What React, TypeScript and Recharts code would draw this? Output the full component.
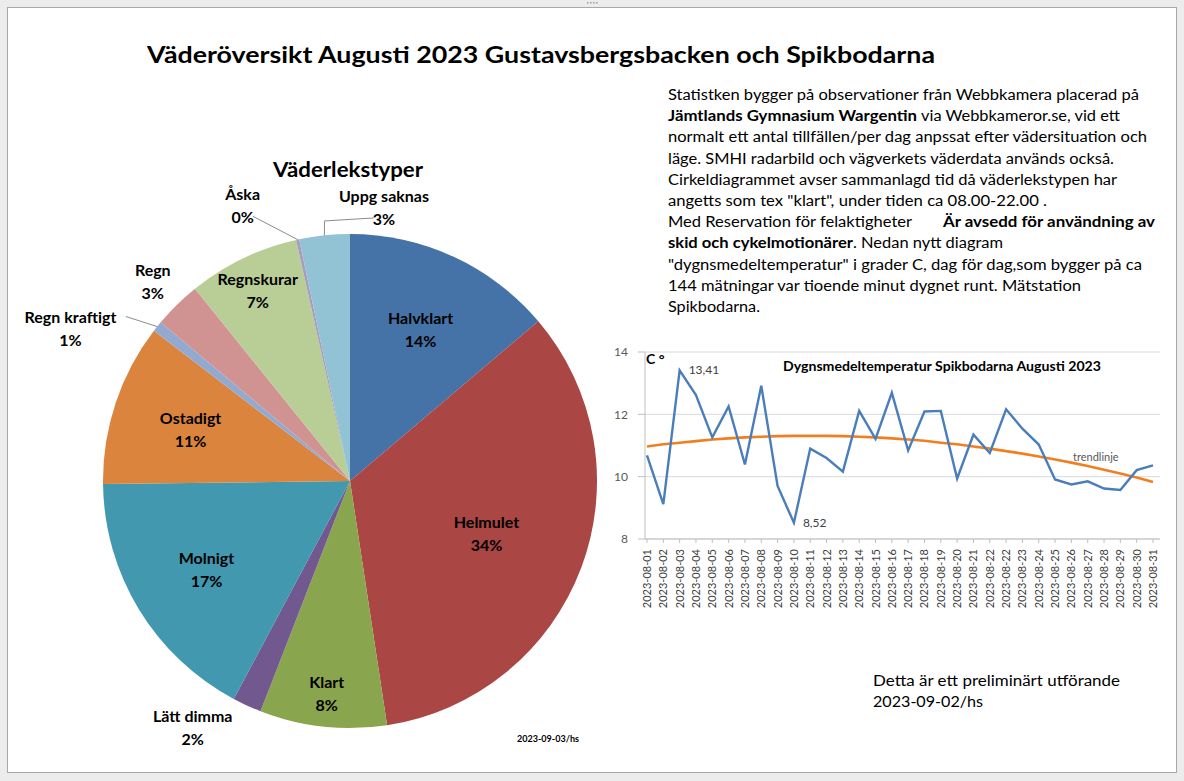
import React from "react";
import {
  PieChart, Pie, Cell, LineChart, Line, XAxis, YAxis, CartesianGrid
} from "recharts";

// väderlekstyper, andel av observerad tid (%)
const CATEGORIES = [
  "Halvklart", "Helmulet", "Klart", "Lätt dimma", "Molnigt", "Ostadigt",
  "Regn kraftigt", "Regn", "Regnskurar", "Åska", "Uppg saknas",
];
const SHARES = [13.8, 33.8, 8.3, 1.9, 17.0, 10.6, 0.7, 3.1, 7.3, 0.2, 3.3];
const SLICE_COLORS = [
  "#4572A7", "#AA4643", "#89A54E", "#71588F", "#4198AF", "#DB843D",
  "#93A9CF", "#D19392", "#B9CD96", "#A99BBD", "#92C3D4",
];

// dygnsmedeltemperatur Spikbodarna
const DATES = [
  "2023-08-01", "2023-08-02", "2023-08-03", "2023-08-04", "2023-08-05",
  "2023-08-06", "2023-08-07", "2023-08-08", "2023-08-09", "2023-08-10",
  "2023-08-11", "2023-08-12", "2023-08-13", "2023-08-14", "2023-08-15",
  "2023-08-16", "2023-08-17", "2023-08-18", "2023-08-19", "2023-08-20",
  "2023-08-21", "2023-08-22", "2023-08-22", "2023-08-23", "2023-08-24",
  "2023-08-25", "2023-08-26", "2023-08-27", "2023-08-28", "2023-08-29",
  "2023-08-30", "2023-08-31",
];
const TEMPS = [
  10.68, 9.12, 13.41, 12.62, 11.26, 12.25, 10.39, 12.92, 9.70, 8.52,
  10.90, 10.60, 10.16, 12.11, 11.21, 12.69, 10.84, 12.09, 12.11, 9.94,
  11.35, 10.76, 12.16, 11.54, 11.03, 9.91, 9.75, 9.85, 9.62, 9.57,
  10.21, 10.36,
];
const TREND = [
  10.97, 11.04, 11.09, 11.14, 11.19, 11.23, 11.26, 11.28, 11.30, 11.31,
  11.31, 11.31, 11.30, 11.28, 11.26, 11.23, 11.19, 11.15, 11.09, 11.04,
  10.97, 10.90, 10.82, 10.74, 10.65, 10.55, 10.45, 10.34, 10.22, 10.10,
  9.97, 9.83,
];
const Y_TICKS = [8, 10, 12, 14];

const FONT = "Lato, 'Open Sans', sans-serif";
const RAD = Math.PI / 180;

const pieData = CATEGORIES.map((name, i) => ({ name, value: SHARES[i] }));
const tempData = DATES.map((day, i) => ({ day, temp: TEMPS[i], trend: TREND[i] }));

const maxIdx = TEMPS.indexOf(Math.max(...TEMPS));
const minIdx = TEMPS.indexOf(Math.min(...TEMPS));

// small slices get their labels outside (compass shift in degrees, radius factor)
const LABEL_NUDGE: Record<string, [number, number]> = {
  "Regn kraftigt": [-10, 1.29],
  "Åska": [-9, 1.2],
  "Uppg saknas": [13, 1.12],
  "Lätt dimma": [8, 1.18],
  "Regn": [0, 1.14],
};

function polar(cx: number, cy: number, r: number, angle: number) {
  return [cx + r * Math.cos(-angle * RAD), cy + r * Math.sin(-angle * RAD)];
}

function renderSliceLabel(props: any) {
  const { cx, cy, midAngle, outerRadius, percent, name } = props;
  const pct = `${Math.round(percent * 100)}%`;
  const outside = percent < 0.04;
  let angle = midAngle;
  let factor = percent > 0.25 ? 0.59 : percent < 0.1 ? 0.86 : 0.68;
  if (outside) {
    const [shift, f] = LABEL_NUDGE[name] ?? [0, 1.15];
    angle = midAngle - shift;
    factor = f;
  }
  const [x, y] = polar(cx, cy, outerRadius * factor, angle);
  const nameY = y - 11.5;
  const pctY = y + 11.5;

  let leader = null;
  if (outside) {
    const [ex, ey] = polar(cx, cy, outerRadius, midAngle);
    const useName = Math.abs(ey - nameY) < Math.abs(ey - pctY);
    const lineY = useName ? nameY : pctY;
    const halfW = ((useName ? name.length : pct.length) * 8.2) / 2;
    let sx = ex;
    let sy = lineY + (ey > lineY ? 9 : -9);
    if (ex > x + halfW) { sx = x + halfW + 2; sy = lineY; }
    else if (ex < x - halfW) { sx = x - halfW - 2; sy = lineY; }
    if (Math.hypot(ex - sx, ey - sy) > 25) {
      const pts = ex < x - halfW
        ? `${sx},${sy} ${ex},${sy + 3} ${ex},${ey}`
        : `${sx},${sy} ${ex},${ey}`;
      leader = <polyline points={pts} fill="none" stroke="#8c8c8c" strokeWidth={1} />;
    }
  }

  return (
    <g>
      {leader}
      <text textAnchor="middle" dominantBaseline="central"
        style={{ fontFamily: FONT, fontWeight: 700, fontSize: 16, fill: "#000" }}>
        <tspan x={x} y={nameY}>{name}</tspan>
        <tspan x={x} y={pctY}>{pct}</tspan>
      </text>
    </g>
  );
}

function renderPointLabel(props: any) {
  const { x, y, index, value } = props;
  if (index !== maxIdx && index !== minIdx) return null;
  return (
    <text x={x + 9} y={y + 4} style={{ fontFamily: FONT, fontSize: 12, fill: "#404040" }}>
      {Number(value).toFixed(2).replace(".", ",")}
    </text>
  );
}

function DateTick(props: any) {
  const { x, y, payload } = props;
  return (
    <text x={x} y={y} dx={-4} dy={4} textAnchor="end"
      transform={`rotate(-90 ${x} ${y})`}
      style={{ fontFamily: FONT, fontSize: 11, fill: "#404040" }}>
      {payload.value}
    </text>
  );
}

const T = (p: any) => (
  <text {...p} lengthAdjust="spacingAndGlyphs"
    style={{ fontFamily: FONT, fontSize: p.size ?? 15.5, fontWeight: p.bold ? 700 : 400, fill: p.fill ?? "#000" }} />
);

export default function App() {
  const lh = 21.2;
  const base = (i: number) => 100 + lh * i;
  return (
    <div style={{ position: "absolute", left: 0, top: 0, width: 1184, height: 781, overflow: "hidden" }}>
      <svg width={1184} height={781} style={{ position: "absolute", left: 0, top: 0 }}>
        <rect x={0} y={0} width={1184} height={781} fill="#ececec" />
        <rect x={7.5} y={7.5} width={1169} height={765} fill="#fff" stroke="#a8a8a8" />
        {[0, 1, 2, 3].map(i => (
          <rect key={i} x={587 + i * 3} y={2} width={1.5} height={1.5} fill="#9a9a9a" />
        ))}

        <T x={147} y={63} textLength={788} size={23} bold>
          Väderöversikt Augusti 2023 Gustavsbergsbacken och Spikbodarna
        </T>

        <T x={668} y={base(0)} textLength={471}>Statistken bygger  på observationer från Webbkamera placerad på</T>
        <T x={668} y={base(1)} textLength={249} bold>Jämtlands Gymnasium Wargentin</T>
        <T x={921} y={base(1)} textLength={199}>via Webbkameror.se, vid ett</T>
        <T x={668} y={base(2)} textLength={479}>normalt ett antal tillfällen/per dag anpssat efter vädersituation och</T>
        <T x={668} y={base(3)} textLength={446}>läge. SMHI radarbild och vägverkets väderdata används också.</T>
        <T x={668} y={base(4)} textLength={449}>Cirkeldiagrammet avser sammanlagd tid då väderlekstypen har</T>
        <T x={668} y={base(5)} textLength={379}>angetts som tex "klart",  under  tiden ca 08.00-22.00 .</T>
        <T x={668} y={base(6)} textLength={244}>Med Reservation för felaktigheter</T>
        <T x={943} y={base(6)} textLength={212} bold>Är avsedd för användning  av</T>
        <T x={668} y={base(7)} textLength={185} bold>skid och cykelmotionärer</T>
        <T x={853} y={base(7)} textLength={150}>. Nedan nytt diagram</T>
        <T x={668} y={base(8)} textLength={474}>"dygnsmedeltemperatur" i grader C, dag för dag,som bygger  på ca</T>
        <T x={668} y={base(9)} textLength={413}>144 mätningar var tioende minut dygnet  runt. Mätstation</T>
        <T x={668} y={base(10)} textLength={92}>Spikbodarna.</T>

        <T x={273} y={177} textLength={150} size={21} bold>Väderlekstyper</T>
        <T x={517} y={742} textLength={62} size={10} bold>2023-09-03/hs</T>

        <T x={873} y={686} textLength={247}>Detta är ett preliminärt utförande</T>
        <T x={873} y={707} textLength={110}>2023-09-02/hs</T>

        <T x={646} y={364} size={14} bold>C °</T>
        <T x={783} y={371} textLength={318} size={13} bold>Dygnsmedeltemperatur Spikbodarna  Augusti  2023</T>
        <T x={1073} y={461} size={11} fill="#595959">trendlinje</T>
      </svg>

      <div style={{ position: "absolute", left: 0, top: 130 }}>
        <PieChart width={700} height={640}>
          <Pie data={pieData} dataKey="value" nameKey="name"
            cx={345} cy={346} outerRadius={247}
            startAngle={90} endAngle={-270}
            stroke="none" label={renderSliceLabel} labelLine={false}
            isAnimationActive={false}>
            {pieData.map((d, i) => <Cell key={d.name} fill={SLICE_COLORS[i]} />)}
          </Pie>
        </PieChart>
      </div>

      <div style={{ position: "absolute", left: 600, top: 340 }}>
        <LineChart width={570} height={280} data={tempData}
          margin={{ top: 12, right: 10, bottom: 0, left: 0 }}>
          <CartesianGrid vertical={false} stroke="#d9d9d9" />
          <XAxis dataKey="day" interval={0} height={81} padding={{ left: 2, right: 7 }}
            tick={<DateTick />} tickSize={4} tickLine={{ stroke: "#bfbfbf" }}
            axisLine={{ stroke: "#bfbfbf" }} />
          <YAxis domain={[8, 14]} ticks={Y_TICKS} width={45} tickSize={7} tickMargin={10}
            axisLine={{ stroke: "#bfbfbf" }} tickLine={{ stroke: "#bfbfbf" }}
            tick={{ fontFamily: FONT, fontSize: 12, fill: "#595959" }} />
          <Line dataKey="trend" stroke="#f07f22" strokeWidth={2.6} dot={false}
            isAnimationActive={false} />
          <Line dataKey="temp" stroke="#4a7ebb" strokeWidth={2.4} dot={false}
            label={renderPointLabel} isAnimationActive={false} />
        </LineChart>
      </div>
    </div>
  );
}
